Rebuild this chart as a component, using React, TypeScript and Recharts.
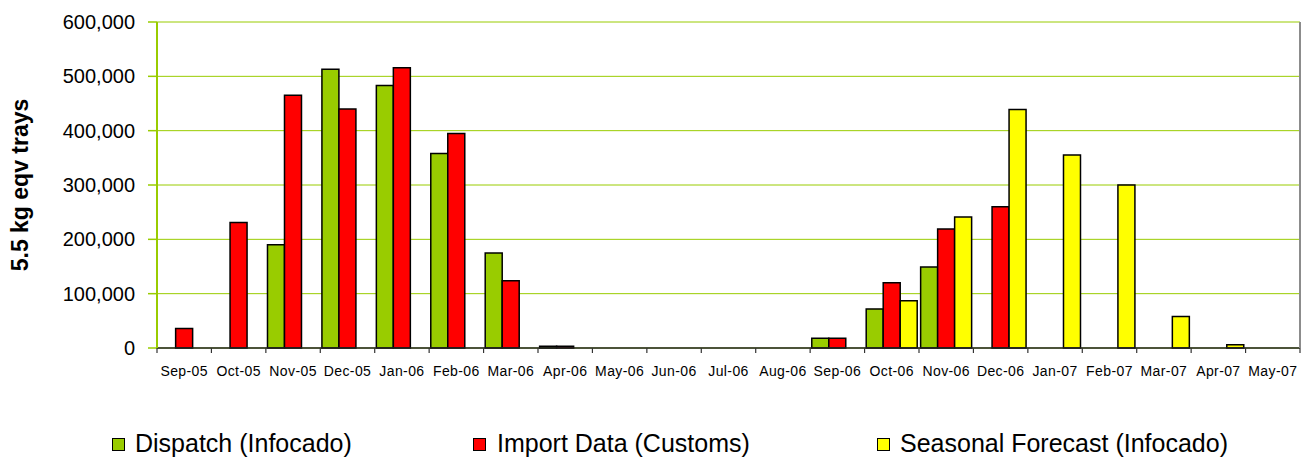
import React from "react";
import { BarChart, Bar, XAxis, YAxis, CartesianGrid, Legend, Label } from "recharts";

const months = [
  "Sep-05", "Oct-05", "Nov-05", "Dec-05", "Jan-06", "Feb-06", "Mar-06", "Apr-06",
  "May-06", "Jun-06", "Jul-06", "Aug-06", "Sep-06", "Oct-06", "Nov-06", "Dec-06",
  "Jan-07", "Feb-07", "Mar-07", "Apr-07", "May-07",
];
const dispatchInfocado = [
  null, null, 190000, 513000, 483000, 358000, 175000, 3000,
  null, null, null, null, 18000, 72000, 149000, null,
  null, null, null, null, null,
];
const importCustoms = [
  36000, 231000, 465000, 440000, 516000, 395000, 124000, 3000,
  null, null, null, null, 18000, 120000, 219000, 260000,
  null, null, null, null, null,
];
const seasonalForecast = [
  null, null, null, null, null, null, null, null,
  null, null, null, null, null, 87000, 241000, 439000,
  355000, 300000, 58000, 6000, null,
];
const yTicks = [0, 100000, 200000, 300000, 400000, 500000, 600000];

const seriesNames = ["Dispatch (Infocado)", "Import Data (Customs)", "Seasonal Forecast (Infocado)"];
const seriesColors = ["#99CC00", "#FF0000", "#FFFF00"];

const data = months.map((m, i) => ({
  month: m,
  dispatch: dispatchInfocado[i],
  imports: importCustoms[i],
  forecast: seasonalForecast[i],
}));

const W = 1309;
const H = 459;
const TOP = 22;
const LEFT = 157;
const RIGHT = 1300;
const AXIS_Y = 348;
const BAND = (RIGHT - LEFT) / months.length;
const FONT = '"Liberation Sans", Arial, Helvetica, sans-serif';

const fmt = (v: number) => v.toLocaleString("en-US");

const XTick = (props: any) => {
  const { x, payload, index } = props;
  const bx = x - BAND / 2;
  return (
    <g>
      <line x1={bx} y1={AXIS_Y} x2={bx} y2={AXIS_Y + 5} stroke="#333" strokeWidth={1.2} />
      {index === months.length - 1 && (
        <line x1={x + BAND / 2} y1={AXIS_Y} x2={x + BAND / 2} y2={AXIS_Y + 5} stroke="#333" strokeWidth={1.2} />
      )}
      <text
        x={x}
        y={AXIS_Y + 28}
        textAnchor="middle"
        fontSize={14}
        fontFamily={FONT}
        letterSpacing={0.4}
        fill="#000"
      >
        {payload.value}
      </text>
    </g>
  );
};

const legendLefts = [112, 473, 877];
const legendTextLefts = [135, 497, 900];

const LegendContent = () => (
  <div style={{ position: "relative", width: W, height: 34 }}>
    {seriesNames.map((n, i) => (
      <React.Fragment key={n}>
        <div
          style={{
            position: "absolute",
            left: legendLefts[i],
            top: 13,
            width: 11,
            height: 11,
            background: seriesColors[i],
            border: "1.5px solid #000",
          }}
        />
        <div
          style={{
            position: "absolute",
            left: legendTextLefts[i],
            top: 6,
            fontSize: 25,
            lineHeight: "25px",
            fontFamily: FONT,
            color: "#000",
            whiteSpace: "nowrap",
          }}
        >
          {n}
        </div>
      </React.Fragment>
    ))}
  </div>
);

export default function App() {
  return (
    <div style={{ position: "absolute", left: 0, top: 0, width: W, height: H, background: "#fff" }}>
      <BarChart
        width={W}
        height={H}
        data={data}
        margin={{ top: TOP, right: 0, left: 0, bottom: 0 }}
        barCategoryGap="3%"
        barGap={0}
      >
        <CartesianGrid vertical={false} stroke="#99CC00" strokeWidth={1} />
        <XAxis
          dataKey="month"
          height={H - AXIS_Y}
          interval={0}
          axisLine={{ stroke: "#222", strokeWidth: 1.5 }}
          tickLine={false}
          tick={<XTick />}
        />
        <XAxis
          xAxisId="top"
          dataKey="month"
          orientation="top"
          height={0}
          axisLine={{ stroke: "#8C8C8C", strokeWidth: 2 }}
          tickLine={false}
          tick={false}
        />
        <YAxis
          width={LEFT}
          domain={[0, 600000]}
          ticks={yTicks}
          interval={0}
          tickFormatter={fmt}
          tickSize={9}
          tickMargin={13}
          axisLine={{ stroke: "#99CC00", strokeWidth: 2 }}
          tickLine={{ stroke: "#99CC00", strokeWidth: 1.5 }}
          tick={{ fontSize: 20, fontFamily: FONT, fill: "#000" }}
        >
          <Label
            content={() => (
              <text
                x={28}
                y={185}
                transform="rotate(-90, 28, 185)"
                textAnchor="middle"
                fontSize={23}
                fontWeight="bold"
                fontFamily={FONT}
                fill="#000"
              >
                5.5 kg eqv trays
              </text>
            )}
          />
        </YAxis>
        <YAxis
          yAxisId="right"
          orientation="right"
          width={W - RIGHT}
          domain={[0, 600000]}
          axisLine={{ stroke: "#8C8C8C", strokeWidth: 2 }}
          tickLine={false}
          tick={false}
        />
        <Bar dataKey="dispatch" name={seriesNames[0]} fill={seriesColors[0]} stroke="#000" strokeWidth={1.5} isAnimationActive={false} />
        <Bar dataKey="imports" name={seriesNames[1]} fill={seriesColors[1]} stroke="#000" strokeWidth={1.5} isAnimationActive={false} />
        <Bar dataKey="forecast" name={seriesNames[2]} fill={seriesColors[2]} stroke="#000" strokeWidth={1.5} isAnimationActive={false} />
        <Legend
          layout="horizontal"
          verticalAlign="middle"
          align="center"
          wrapperStyle={{ left: 0, top: 425, width: W, height: 34 }}
          content={<LegendContent />}
        />
      </BarChart>
    </div>
  );
}
